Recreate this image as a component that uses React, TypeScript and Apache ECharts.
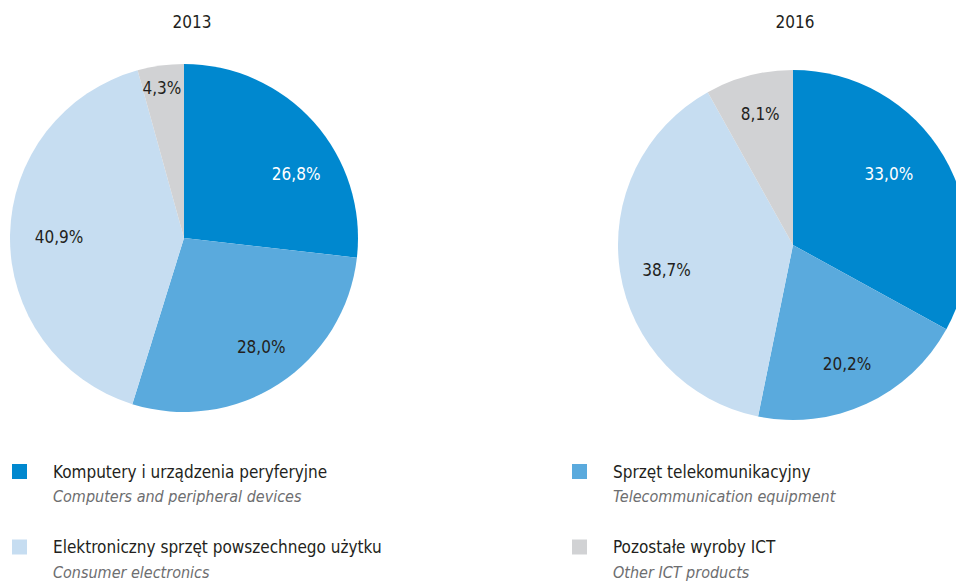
import React, { useEffect, useRef } from "react";
import * as echarts from "echarts";

const categoriesPl = [
  "Komputery i urządzenia peryferyjne",
  "Sprzęt telekomunikacyjny",
  "Elektroniczny sprzęt powszechnego użytku",
  "Pozostałe wyroby ICT",
];
const categoriesEn = [
  "Computers and peripheral devices",
  "Telecommunication equipment",
  "Consumer electronics",
  "Other ICT products",
];
const years = ["2013", "2016"];
const values2013 = [26.8, 28.0, 40.9, 4.3];
const values2016 = [33.0, 20.2, 38.7, 8.1];

const colors = ["#0088cf", "#5aaadd", "#c6ddf1", "#d1d2d4"];
const labelColors = ["#ffffff", "#231f20", "#231f20", "#231f20"];
const FONT = '"DejaVu Sans Condensed", "Liberation Sans Narrow", "Open Sans", sans-serif';

// label nudges from ECharts' default inside position [dx, dy]
const labelNudge2013 = [[45, -4], [28, 34], [-35, 0], [-10, -61]];
const labelNudge2016 = [[18, -25], [16, 37], [-37, 11], [-10, -43]];

function fmt(v: number) {
  return v.toFixed(1).replace(".", ",") + "%";
}

function buildData(values: number[]) {
  return values.map((v, i) => ({
    name: categoriesPl[i],
    value: v,
    itemStyle: { color: colors[i] },
    label: { color: labelColors[i] },
  }));
}

export default function App() {
  const ref = useRef<HTMLDivElement>(null);
  useEffect(() => {
    if (!ref.current) return;
    const chart = echarts.init(ref.current, undefined, { renderer: "svg" });
    const enMap: Record<string, string> = {};
    categoriesPl.forEach((n, i) => (enMap[n] = categoriesEn[i]));
    const legendCommon = {
      orient: "vertical" as const,
      top: 434,
      padding: 0,
      itemWidth: 15,
      itemHeight: 15,
      itemGap: 5,
      icon: "rect",
      selectedMode: false,
      formatter: (name: string) => `{e| }\n{a|${name}}\n{b|${enMap[name]}}`,
      textStyle: {
        padding: [0, 0, 0, 21],
        fontFamily: FONT,
        rich: {
          e: { fontSize: 17, lineHeight: 25, height: 25 },
          a: { fontSize: 17, lineHeight: 25, color: "#231f20", fontFamily: FONT },
          b: { fontSize: 16, lineHeight: 25, color: "#6d6e70", fontStyle: "italic", fontFamily: FONT },
        },
      },
    };
    const pieCommon = {
      type: "pie" as const,
      startAngle: 90,
      clockwise: true,
      avoidLabelOverlap: false,
      labelLine: { show: false },
      itemStyle: { borderWidth: 0 },
      emphasis: { disabled: true },
      label: {
        show: true,
        position: "inside" as const,
        fontSize: 17,
        fontFamily: FONT,
        formatter: (p: any) => fmt(p.value),
      },
    };
    chart.setOption({
      animation: false,
      textStyle: { fontFamily: FONT },
      graphic: [
        {
          type: "text",
          x: 192,
          y: 22,
          style: { text: years[0], fontSize: 17, fill: "#231f20", align: "center", verticalAlign: "middle", fontFamily: FONT },
        },
        {
          type: "text",
          x: 795,
          y: 22,
          style: { text: years[1], fontSize: 17, fill: "#231f20", align: "center", verticalAlign: "middle", fontFamily: FONT },
        },
      ],
      legend: [
        { ...legendCommon, left: 12, data: [categoriesPl[0], categoriesPl[2]] },
        { ...legendCommon, left: 572, data: [categoriesPl[1], categoriesPl[3]] },
      ],
      series: [
        {
          ...pieCommon,
          name: years[0],
          center: [184, 238],
          radius: 174,
          data: buildData(values2013),
          labelLayout: (p: any) => ({ dx: labelNudge2013[p.dataIndex][0], dy: labelNudge2013[p.dataIndex][1] }),
        },
        {
          ...pieCommon,
          name: years[1],
          center: [793, 245],
          radius: 175,
          data: buildData(values2016),
          labelLayout: (p: any) => ({ dx: labelNudge2016[p.dataIndex][0], dy: labelNudge2016[p.dataIndex][1] }),
        },
      ],
    });
    return () => chart.dispose();
  }, []);
  return (
    <div
      ref={ref}
      style={{ position: "absolute", left: 0, top: 0, width: 956, height: 583, background: "#fff" }}
    />
  );
}
